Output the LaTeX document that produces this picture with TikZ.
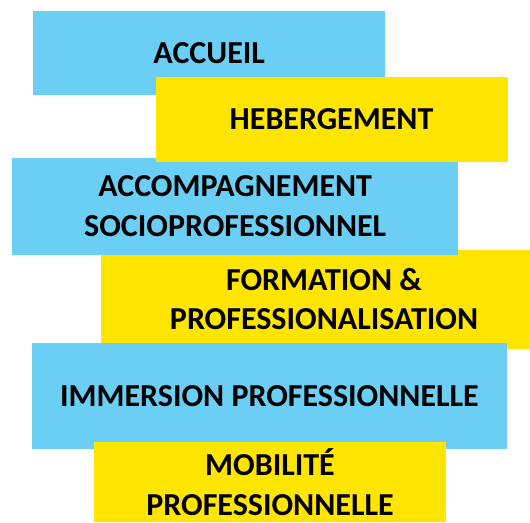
\documentclass[tikz,border=0pt]{standalone}
\usepackage{fontspec}
\setmainfont{Carlito}
\usepackage{tikz}
\usepackage{xcolor}
\usetikzlibrary{positioning}

\definecolor{stepblue}{RGB}{106,206,245}
\definecolor{stepyellow}{RGB}{255,229,0}

\begin{document}
\begin{tikzpicture}[x=1pt, y=-1pt,
  box/.style={inner sep=0pt, align=center, text=black,
              font=\fontsize{32}{39.5}\selectfont\bfseries},
  bluebox/.style={box, fill=stepblue},
  yellowbox/.style={box, fill=stepyellow},
  small/.style={minimum width=352pt, minimum height=84.5pt},
  wide/.style={minimum width=446pt, minimum height=97pt}
]
\clip (0,0) rectangle (530,522);

% lower layer
\node[yellowbox, wide, minimum height=99pt] (formation) at (324,299)
  {FORMATION \&\\PROFESSIONALISATION};
\node[bluebox, small] (accueil) at (209.2,53.2) {ACCUEIL};
\node[bluebox, wide] (accompagnement) at (235.2,206)
  {ACCOMPAGNEMENT\\SOCIOPROFESSIONNEL};
\node[bluebox, minimum width=474.7pt, minimum height=106pt] (immersion) at (269.4,396)
  {IMMERSION PROFESSIONNELLE};

% upper layer
\node[yellowbox, small] (hebergement) at (331.5,119.5) {HEBERGEMENT};
\node[yellowbox, small, minimum height=80pt] (mobilite) at (270,482)
  {MOBILITÉ\\PROFESSIONNELLE};
\end{tikzpicture}
\end{document}
